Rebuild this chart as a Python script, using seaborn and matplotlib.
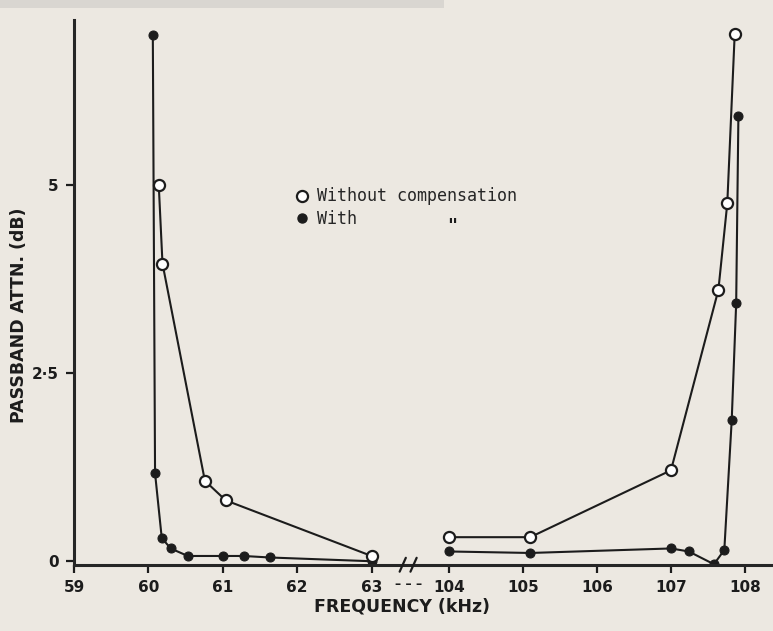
import numpy as np
import matplotlib.pyplot as plt
import seaborn as sns
from matplotlib.lines import Line2D
from matplotlib.patches import Rectangle

# passband attenuation (dB)
# low band, 59-63 kHz
lo_freq_without = [60.14, 60.19, 60.76, 61.04, 63.0]
lo_att_without = [5.0, 3.96, 1.07, 0.81, 0.07]
lo_freq_with = [60.06, 60.09, 60.18, 60.30, 60.53, 61.01, 61.28, 61.63, 63.0]
lo_att_with = [7.0, 1.17, 0.31, 0.17, 0.07, 0.07, 0.07, 0.05, 0.0]

# high band, 104-108 kHz
hi_freq_without = [104.0, 105.1, 107.0, 107.64, 107.76, 107.86]
hi_att_without = [0.32, 0.32, 1.21, 3.61, 4.76, 7.01]
hi_freq_with = [104.0, 105.1, 107.0, 107.24, 107.58, 107.72, 107.82, 107.88, 107.91]
hi_att_with = [0.13, 0.11, 0.17, 0.13, -0.04, 0.15, 1.88, 3.43, 5.92]

lo_ticks = [59, 60, 61, 62, 63]
hi_ticks = [104, 105, 106, 107, 108]
y_ticks = [0, 2.5, 5]
y_labels = ['0', '2·5', '5']

paper = '#ece8e1'
ink = '#1c1c1c'

sns.set_style('ticks')
plt.rcParams['font.family'] = ['DejaVu Sans']
plt.rcParams['axes.linewidth'] = 2.2

fig = plt.figure(figsize=(7.73, 6.31), dpi=100, facecolor=paper)
ax1 = fig.add_axes([0.0957, 0.1046, 0.4282, 0.8637], facecolor=paper)
ax2 = fig.add_axes([0.5278, 0.1046, 0.4696, 0.8637], facecolor=paper, sharey=ax1)

# grey strip along the top edge of the scan
fig.add_artist(Rectangle((0, 0.987), 0.575, 0.013, transform=fig.transFigure,
                         color='#d9d6d1', lw=0))

open_kw = dict(marker='o', markersize=8, markerfacecolor='white',
               markeredgecolor=ink, markeredgewidth=1.6)
fill_kw = dict(marker='o', markersize=6.5, markerfacecolor=ink,
               markeredgecolor=ink)

for ax, fw, aw, fm, am in [(ax1, lo_freq_without, lo_att_without, lo_freq_with, lo_att_with),
                           (ax2, hi_freq_without, hi_att_without, hi_freq_with, hi_att_with)]:
    sns.lineplot(x=fm, y=am, ax=ax, sort=False, color=ink, lw=1.5, **fill_kw)
    sns.lineplot(x=fw, y=aw, ax=ax, sort=False, color=ink, lw=1.5, **open_kw)
    ax.tick_params(direction='out', length=6, width=1.6, colors=ink,
                   labelsize=11, pad=5)
    ax.spines[['top', 'right']].set_visible(False)
    ax.set_xlabel('')
    ax.set_ylabel('')

ax1.set_xlim(59, 63.45)
ax1.set_xticks(lo_ticks)
ax1.set_xticklabels([str(t) for t in lo_ticks], fontweight='bold')
ax1.set_ylim(-0.05, 7.2)
ax1.set_yticks(y_ticks)
ax1.set_yticklabels(y_labels, fontweight='bold')

ax2.set_xlim(103.45, 108.35)
ax2.set_xticks(hi_ticks)
ax2.set_xticklabels([str(t) for t in hi_ticks], fontweight='bold')
ax2.spines['left'].set_visible(False)
ax2.tick_params(axis='y', left=False, labelleft=False)

# break marks on the frequency axis
for x in (0.521, 0.535):
    fig.add_artist(Line2D([x - 0.004, x + 0.004], [0.094, 0.116],
                          transform=fig.transFigure, color=ink, lw=1.6))
fig.text(0.528, 0.073, '– – –', ha='center', va='center', fontsize=9,
         color=ink, fontweight='bold')

fig.text(0.52, 0.039, 'FREQUENCY (kHz)', ha='center', va='center',
         fontsize=12.5, fontweight='bold', color=ink)
fig.text(0.024, 0.5, 'PASSBAND ATTN. (dB)', ha='center', va='center',
         rotation=90, fontsize=12.5, fontweight='bold', color=ink)

handles = [Line2D([], [], ls='none', **open_kw), Line2D([], [], ls='none', **fill_kw)]
leg = fig.legend(handles, ['Without compensation', 'With'], loc='upper left',
                 bbox_to_anchor=(0.384, 0.703), frameon=False,
                 prop={'family': 'DejaVu Sans Mono', 'size': 12},
                 handlelength=0.6, handletextpad=0.6, labelspacing=0.25,
                 borderpad=0, borderaxespad=0)
fig.text(0.578, 0.642, '"', fontsize=12, fontweight='bold', color=ink,
         family='DejaVu Sans Mono', va='center')

fig.savefig('out.png', dpi=100, facecolor=paper)
